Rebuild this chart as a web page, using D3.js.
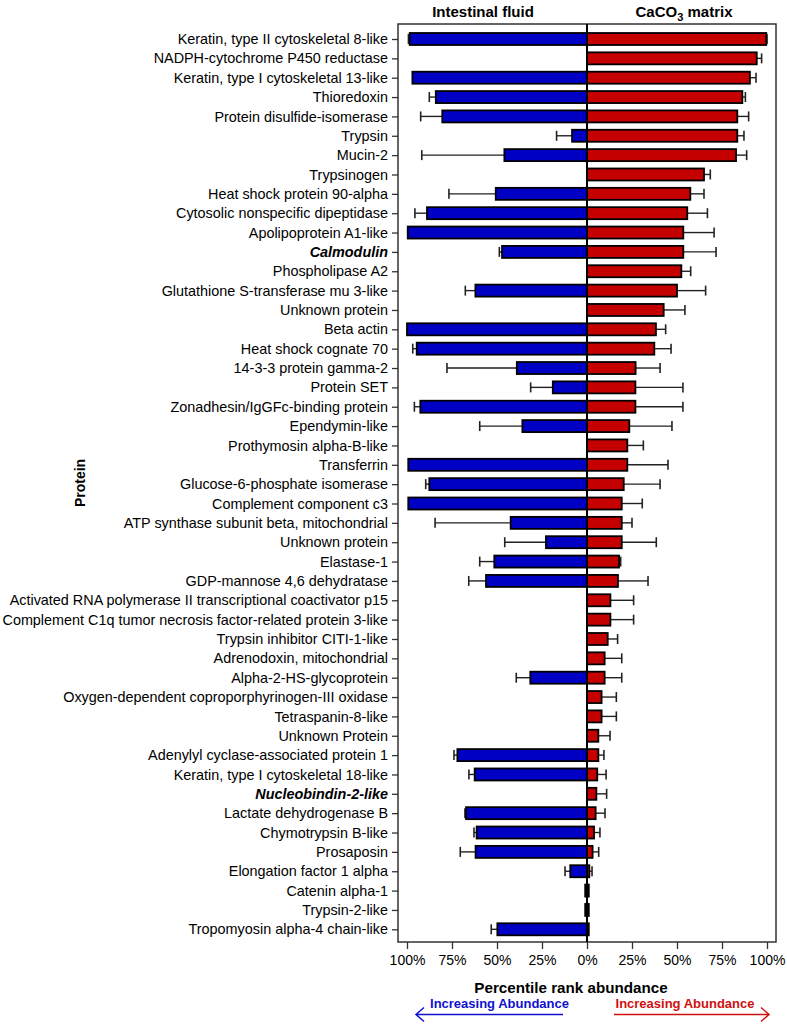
<!DOCTYPE html>
<html><head><meta charset="utf-8">
<script src="https://cdnjs.cloudflare.com/ajax/libs/d3/7.8.5/d3.min.js"></script>
<style>body{margin:0;background:#fff;} svg{display:block;font-family:"Liberation Sans",Arial,sans-serif;}</style>
</head><body>
<svg id="chart" width="787" height="1024"></svg>
<script>
const proteins = ["Keratin, type II cytoskeletal 8-like","NADPH-cytochrome P450 reductase","Keratin, type I cytoskeletal 13-like","Thioredoxin","Protein disulfide-isomerase","Trypsin","Mucin-2","Trypsinogen","Heat shock protein 90-alpha","Cytosolic nonspecific dipeptidase","Apolipoprotein A1-like","Calmodulin","Phospholipase A2","Glutathione S-transferase mu 3-like","Unknown protein","Beta actin","Heat shock cognate 70","14-3-3 protein gamma-2","Protein SET","Zonadhesin/IgGFc-binding protein","Ependymin-like","Prothymosin alpha-B-like","Transferrin","Glucose-6-phosphate isomerase","Complement component c3","ATP synthase subunit beta, mitochondrial","Unknown protein ","Elastase-1","GDP-mannose 4,6 dehydratase","Activated RNA polymerase II transcriptional coactivator p15","Complement C1q tumor necrosis factor-related protein 3-like","Trypsin inhibitor CITI-1-like","Adrenodoxin, mitochondrial","Alpha-2-HS-glycoprotein","Oxygen-dependent coproporphyrinogen-III oxidase","Tetraspanin-8-like","Unknown Protein","Adenylyl cyclase-associated protein 1","Keratin, type I cytoskeletal 18-like","Nucleobindin-2-like","Lactate dehydrogenase B","Chymotrypsin B-like","Prosaposin","Elongation factor 1 alpha","Catenin alpha-1","Trypsin-2-like","Tropomyosin alpha-4 chain-like"];
const highlighted = ["Calmodulin","Nucleobindin-2-like"];
const fluidValues = [98.5,null,97,84,80.4,8.3,45.9,null,50.7,88.9,99.6,47.2,null,62,null,100,94.6,39,19,92.6,35.9,null,99.3,87.6,99.3,42.4,22.8,51.5,56.1,null,null,null,null,31.5,null,null,null,72,62.4,null,67.2,61.3,61.9,9.3,1,1,49.8];
const fluidErrors = [0.7,0,0,3.6,12,8.6,45.9,0,26,6.7,0,1.5,0,5.6,0,0,2.2,38.8,12.3,3.3,23.7,0,0,2,0,42,22.9,8.1,9.6,0,0,0,0,7.8,0,0,0,1.9,3.2,0,0.6,1.5,8.5,2.9,0,0,3.4];
const matrixValues = [99.6,94.3,90.5,86.3,83.5,83.5,82.8,65,57.4,55.7,53.5,53.5,52.4,50,42.6,38.3,37.4,27,26.9,26.9,23.5,22.4,22.4,20.4,19.3,19.3,19.3,17.8,17.2,13,13,11.5,9.8,9.8,8.1,8.1,6.3,6.3,5.7,5.2,4.8,3.9,3.1,1.3,1,1,1];
const matrixErrors = [0.4,2.7,3.4,1.7,6.3,3.7,5.9,3.5,7.6,11.2,17.1,18.2,5.2,15.9,11.8,5.4,9.3,13.6,26.4,26.4,23.7,8.9,22.6,20.2,11.4,5.7,19.2,0.9,16.7,12.9,12.9,5.5,9.5,9.5,8.2,8.2,6.5,3.1,4.9,5.7,5.2,3.3,3.4,1.5,0,0,0];
const tickValues = [-100,-75,-50,-25,0,25,50,75,100];

const svg = d3.select("#chart");
const plot = {left:398, right:776, top:24, bottom:942};
const x = d3.scaleLinear().domain([-100,100]).range([407,767]);
const y = d3.scalePoint().domain(proteins).range([39,929.3]);
const barH = 12;

// plot frame
svg.append("rect").attr("x",plot.left).attr("y",plot.top)
  .attr("width",plot.right-plot.left).attr("height",plot.bottom-plot.top)
  .attr("fill","none").attr("stroke","#333").attr("stroke-width",1.5);

const rows = proteins.map((p,i)=>({p, fv:fluidValues[i], fe:fluidErrors[i], mv:matrixValues[i], me:matrixErrors[i]}));

function errBar(g, x0, x1, yc){
  g.append("line").attr("x1",x0).attr("x2",x1).attr("y1",yc).attr("y2",yc)
    .attr("stroke","#222").attr("stroke-width",1.4);
  g.append("line").attr("x1",x1).attr("x2",x1).attr("y1",yc-5).attr("y2",yc+5)
    .attr("stroke","#222").attr("stroke-width",1.6);
}
const eg = svg.append("g");
const bg = svg.append("g");
rows.forEach(r=>{
  const yc = y(r.p);
  if(r.fv!=null){
    if(r.fe>0) errBar(eg, x(-r.fv), x(-(r.fv+r.fe)), yc);
    bg.append("rect").attr("x",x(-r.fv)).attr("y",yc-barH/2)
      .attr("width",x(0)-x(-r.fv)).attr("height",barH)
      .attr("fill","#0000c4").attr("stroke","#000").attr("stroke-width",1.8);
  }
  if(r.mv!=null){
    if(r.me>0) errBar(eg, x(r.mv), x(r.mv+r.me), yc);
    bg.append("rect").attr("x",x(0)).attr("y",yc-barH/2)
      .attr("width",x(r.mv)-x(0)).attr("height",barH)
      .attr("fill","#c40000").attr("stroke","#000").attr("stroke-width",1.8);
  }
});

// center line
svg.append("line").attr("x1",x(0)).attr("x2",x(0)).attr("y1",plot.top).attr("y2",plot.bottom)
  .attr("stroke","#000").attr("stroke-width",2);

// y axis
const yAxis = svg.append("g").attr("transform",`translate(${plot.left},0)`)
  .call(d3.axisLeft(y).tickSize(6).tickPadding(4).tickFormat(d=>d.trim()));
yAxis.select(".domain").remove();
yAxis.selectAll("line").attr("stroke","#333").attr("stroke-width",1.3);
yAxis.selectAll("text").attr("font-size","14.4px").attr("fill","#000")
  .style("font-family","'Liberation Sans',Arial,sans-serif")
  .attr("font-weight",d=>highlighted.includes(d)?"bold":"normal")
  .attr("font-style",d=>highlighted.includes(d)?"italic":"normal");

// x axis
const xAxis = svg.append("g").attr("transform",`translate(0,${plot.bottom})`)
  .call(d3.axisBottom(x).tickValues(tickValues).tickSize(7).tickPadding(6).tickFormat(d=>Math.abs(d)+"%"));
xAxis.select(".domain").remove();
xAxis.selectAll("line").attr("stroke","#333").attr("stroke-width",1.3);
xAxis.selectAll("text").attr("font-size","14px").attr("fill","#000")
  .style("font-family","'Liberation Sans',Arial,sans-serif");

// titles
svg.append("text").attr("x",483).attr("y",17).attr("text-anchor","middle")
  .attr("font-size","15px").attr("font-weight","bold").text("Intestinal fluid");
const t2 = svg.append("text").attr("x",684).attr("y",17).attr("text-anchor","middle")
  .attr("font-size","15px").attr("font-weight","bold");
t2.append("tspan").text("CaCO");
t2.append("tspan").attr("font-size","11px").attr("dy",4).text("3");
t2.append("tspan").attr("dy",-4).text(" matrix");

svg.append("text").attr("x",571).attr("y",993).attr("text-anchor","middle")
  .attr("font-size","15.2px").attr("font-weight","bold").text("Percentile rank abundance");
svg.append("text").attr("transform","translate(85,483) rotate(-90)").attr("text-anchor","middle")
  .attr("font-size","14px").attr("font-weight","bold").text("Protein");

// arrows
svg.append("text").attr("x",499.5).attr("y",1008).attr("text-anchor","middle")
  .attr("font-size","13px").attr("font-weight","bold").attr("fill","#1010d0").text("Increasing Abundance");
svg.append("text").attr("x",685).attr("y",1008).attr("text-anchor","middle")
  .attr("font-size","13px").attr("font-weight","bold").attr("fill","#d01010").text("Increasing Abundance");
const ay = 1014.5;
svg.append("path").attr("d",`M563,${ay}H416 M424,${ay-7}L416,${ay}L424,${ay+7}`)
  .attr("fill","none").attr("stroke","#1010d0").attr("stroke-width",1.5);
svg.append("path").attr("d",`M614,${ay}H769 M761,${ay-7}L769,${ay}L761,${ay+7}`)
  .attr("fill","none").attr("stroke","#d01010").attr("stroke-width",1.5);
</script>
</body></html>
